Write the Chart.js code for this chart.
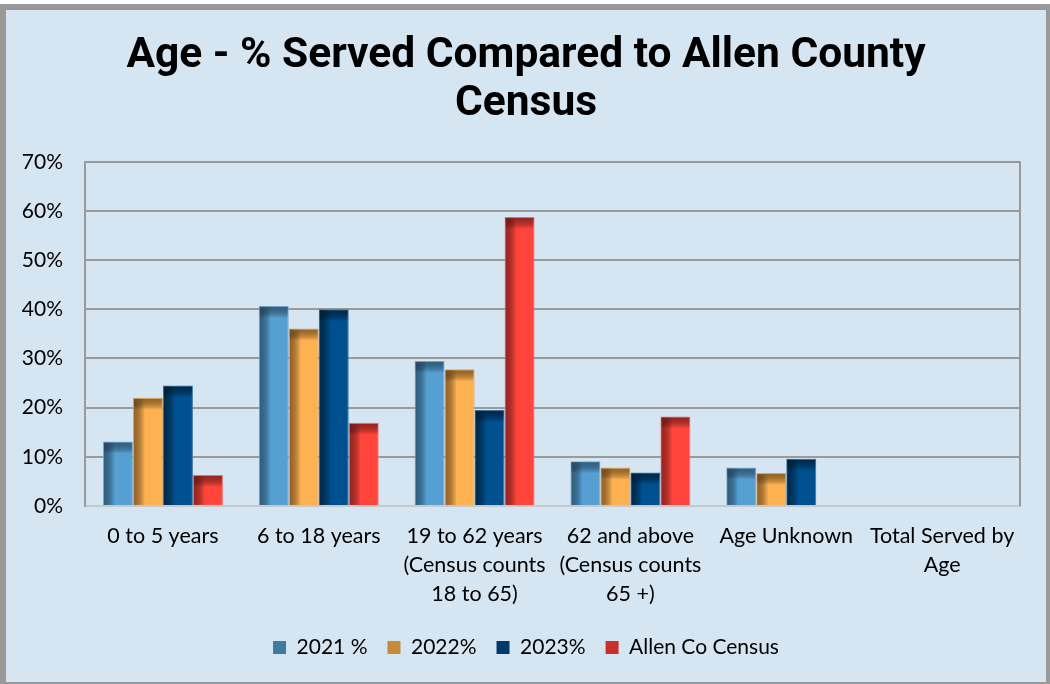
<!DOCTYPE html>
<html>
<head>
<meta charset="utf-8">
<script src="https://cdn.jsdelivr.net/npm/chart.js@4.4.1/dist/chart.umd.min.js"></script>
<style>
  html, body { margin: 0; padding: 0; background: #ffffff; }
  #frame {
    position: absolute; left: 0; top: 4px;
    width: 1040px; height: 672px;
    border-left: 6px solid #999; border-top: 6px solid #999;
    border-right: 4px solid #999; border-bottom: 2px solid #999;
    background: #d5e6f2;
  }
  #chart { display: block; }
</style>
</head>
<body>
<div id="frame"><canvas id="chart" width="1040" height="672"></canvas></div>
<script>
// Data
const categories = [
    '0 to 5 years',
    '6 to 18 years',
    ['19 to 62 years', '(Census counts', '18 to 65)'],
    ['62 and above', '(Census counts', '65 +)'],
    'Age Unknown',
    ['Total Served by', 'Age']
];
const seriesNames = ['2021 %', '2022%', '2023%', 'Allen Co Census'];
const served2021 = [13.1, 40.7, 29.5, 9.1, 7.8, null];
const served2022 = [22.0, 36.1, 27.8, 7.8, 6.7, null];
const served2023 = [24.5, 40.0, 19.5, 6.8, 9.6, null];
const allenCensus = [6.3, 16.9, 58.8, 18.2, null, null];
const yTicks = [0, 10, 20, 30, 40, 50, 60, 70];

const baseColors = ['#559fd2', '#fdb151', '#004f8e', '#ff453b'];
const edgeColors = ['#2c5675', '#87571c', '#00223f', '#8a1e1e'];
const borderColors = ['#7fa9c8', '#d9a35c', '#3d6f9a', '#e07a7a'];
const legendColors = ['#3f7aa5', '#c68a3a', '#013a6a', '#c8302c'];

const FONT = "Lato, 'Open Sans', sans-serif";

// shading on the left edge and top of each bar
const bevelPlugin = {
    id: 'bevel',
    afterDatasetsDraw(chart) {
        const ctx = chart.ctx;
        chart.data.datasets.forEach((ds, di) => {
            const meta = chart.getDatasetMeta(di);
            meta.data.forEach((bar, i) => {
                if (ds.data[i] == null) return;
                const w = bar.width;
                const left = bar.x - w / 2;
                const top = bar.y;
                const h = bar.base - bar.y;
                ctx.save();
                let g = ctx.createLinearGradient(left, 0, left + w * 0.4, 0);
                g.addColorStop(0, edgeColors[di]);
                g.addColorStop(1, 'rgba(0,0,0,0)');
                ctx.fillStyle = g;
                ctx.globalAlpha = 0.85;
                ctx.fillRect(left + 1, top + 1, w * 0.4, h - 1);
                const band = Math.min(12, h * 0.5);
                g = ctx.createLinearGradient(0, top, 0, top + band);
                g.addColorStop(0, edgeColors[di]);
                g.addColorStop(1, 'rgba(0,0,0,0)');
                ctx.fillStyle = g;
                ctx.fillRect(left + 1, top + 1, w - 2, band);
                ctx.restore();
            });
        });
    }
};

const ctx = document.getElementById('chart').getContext('2d');
new Chart(ctx, {
    type: 'bar',
    data: {
        labels: categories,
        datasets: [served2021, served2022, served2023, allenCensus].map((vals, i) => ({
            label: seriesNames[i],
            data: vals,
            backgroundColor: baseColors[i],
            borderColor: borderColors[i],
            borderWidth: 1,
            categoryPercentage: 0.77,
            barPercentage: 1.0
        }))
    },
    options: {
        responsive: false,
        animation: false,
        layout: { padding: { left: 0, right: 0, top: 0, bottom: 14 } },
        plugins: {
            title: {
                display: true,
                text: ['Age - % Served Compared to Allen County', 'Census'],
                color: '#000',
                font: { family: 'Roboto, sans-serif', size: 42.5, weight: 'bold', lineHeight: 1.14 },
                padding: { top: 22, bottom: 33 }
            },
            legend: {
                position: 'bottom',
                labels: {
                    color: '#000',
                    font: { family: FONT, size: 21 },
                    boxWidth: 13,
                    boxHeight: 13,
                    padding: 20,
                    generateLabels(chart) {
                        return chart.data.datasets.map((ds, i) => ({
                            text: ds.label,
                            fillStyle: legendColors[i],
                            strokeStyle: 'rgba(0,0,0,0)',
                            lineWidth: 0,
                            datasetIndex: i
                        }));
                    }
                }
            },
            tooltip: { enabled: false }
        },
        scales: {
            x: {
                grid: { display: false },
                border: { display: true, color: '#c6c9cc', width: 2 },
                ticks: {
                    color: '#000',
                    font: { family: FONT, size: 21.5, lineHeight: 1.35 },
                    padding: 8,
                    maxRotation: 0,
                    autoSkip: false
                }
            },
            y: {
                min: 0,
                max: 70,
                afterBuildTicks(scale) {
                    scale.ticks = yTicks.map(v => ({ value: v }));
                },
                afterFit(scale) { scale.width = 79; },
                grid: {
                    drawTicks: false,
                    lineWidth: 2,
                    color: c => (c.tick && c.tick.value === 0) ? 'rgba(0,0,0,0)' : '#9a9a9a'
                },
                border: { display: true, color: '#9a9a9a', width: 2 },
                ticks: {
                    color: '#000',
                    font: { family: FONT, size: 21 },
                    padding: 22,
                    callback: v => v + '%'
                }
            },
            y2: {
                position: 'right',
                min: 0,
                max: 70,
                afterFit(scale) { scale.width = 26; },
                grid: { display: false, drawTicks: false },
                border: { display: true, color: '#9a9a9a', width: 2 },
                ticks: { display: false }
            }
        }
    },
    plugins: [bevelPlugin]
});
</script>
</body>
</html>
